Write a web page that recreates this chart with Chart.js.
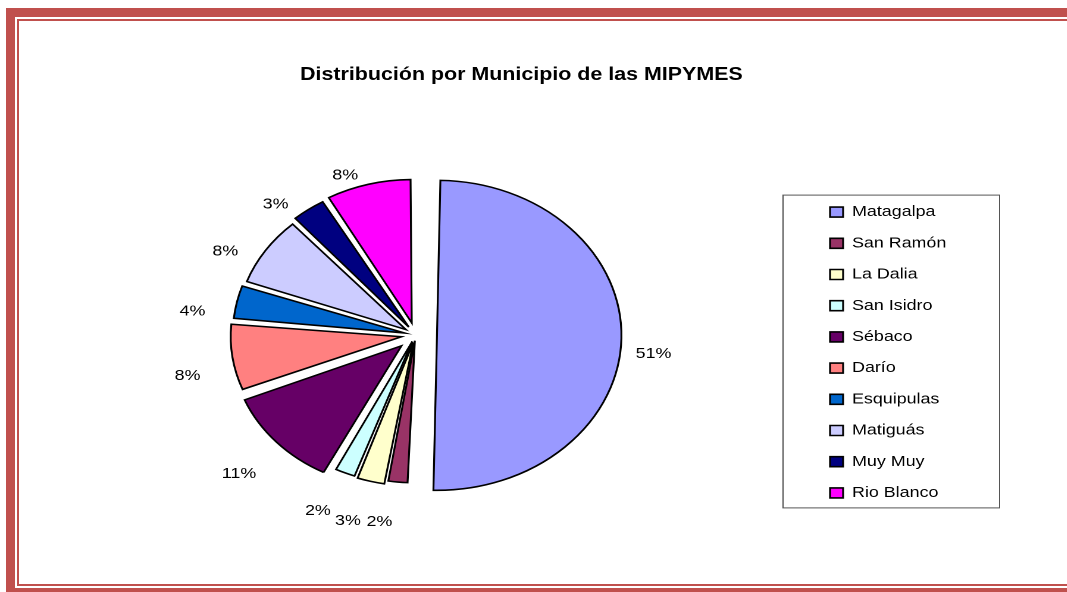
<!DOCTYPE html>
<html lang="es">
<head>
<meta charset="utf-8">
<title>Distribución por Municipio de las MIPYMES</title>
<script src="https://cdn.jsdelivr.net/npm/chart.js@4.4.1/dist/chart.umd.min.js"></script>
<style>
  body { margin: 0; width: 1067px; height: 592px; overflow: hidden; background: #fff; position: relative; }
  .marco1 { position: absolute; left: 6px; top: 8px; width: 1200px; height: 571px; border: 9px solid #c0504d; }
  .marco2 { position: absolute; left: 17px; top: 19px; width: 1200px; height: 563px; border: 2px solid #c0504d; }
  /* the original picture is stretched sideways, so the canvas is too */
  .lienzo { position: absolute; left: 0; top: 0; width: 897px; height: 592px; transform: scaleX(1.19); transform-origin: 0 0; }
</style>
</head>
<body>
<div class="marco1"></div>
<div class="marco2"></div>
<div class="lienzo"><canvas id="grafico" width="897" height="592"></canvas></div>
<script>
const municipios = ['Matagalpa', 'San Ramón', 'La Dalia', 'San Isidro', 'Sébaco', 'Darío', 'Esquipulas', 'Matiguás', 'Muy Muy', 'Rio Blanco'];
const porcentajes = [50.6, 2.0, 2.8, 2.1, 11.4, 7.6, 3.9, 8.0, 3.4, 8.2];

// estilo
const colores = ['#9999ff', '#993366', '#ffffcc', '#ccffff', '#660066', '#ff8080', '#0066cc', '#ccccff', '#000080', '#ff00ff'];
const separacion = [72, 23, 31, 28, 64, 48, 38, 39, 39, 50];
const radioPastel = 137;
const distanciaEtiqueta = 25;
const corrimientoEtiquetas = { x: -13, y: 15 };
const anchoLeyenda = 177.8;

Chart.defaults.font.family = "'Liberation Sans', Arial, sans-serif";
Chart.defaults.color = '#000';

// texto de porcentaje fuera de cada porción
const etiquetasPorcentaje = {
  id: 'etiquetasPorcentaje',
  afterDatasetsDraw(chart) {
    const ctx = chart.ctx;
    const meta = chart.getDatasetMeta(0);
    const total = porcentajes.reduce((a, b) => a + b, 0);
    ctx.save();
    ctx.font = "15px 'Liberation Sans', Arial, sans-serif";
    ctx.fillStyle = '#000';
    ctx.textBaseline = 'middle';
    meta.data.forEach((arc, i) => {
      const mid = (arc.startAngle + arc.endAngle) / 2;
      // chart.js mueve la porción offset/4 y la agranda un poco
      const t = separacion[i] / 4;
      const fix = 1 - Math.sin(Math.min(Math.PI, arc.circumference));
      const r = arc.outerRadius + t * (1 + fix) + distanciaEtiqueta;
      const texto = Math.round(porcentajes[i] / total * 100) + '%';
      const x = arc.x + corrimientoEtiquetas.x + Math.cos(mid) * r;
      const y = arc.y + corrimientoEtiquetas.y + Math.sin(mid) * r;
      // a la derecha el texto arranca en el punto, para no pisar la porción
      ctx.textAlign = Math.cos(mid) > 0.5 ? 'left' : 'center';
      ctx.fillText(texto, x, y);
    });
    ctx.restore();
  }
};

// leyenda mas ancha y con recuadro
const marcoLeyenda = {
  id: 'marcoLeyenda',
  beforeLayout(chart) {
    const lg = chart.legend;
    if (lg && !lg._ancho) {
      const fit = lg.fit;
      lg.fit = function () {
        fit.call(this);
        this.width = anchoLeyenda;
      };
      lg._ancho = true;
    }
  },
  afterDraw(chart) {
    const hb = chart.legend.legendHitBoxes;
    if (!hb || !hb.length) return;
    const ctx = chart.ctx;
    const x0 = hb[0].left - 39.5;
    const y0 = hb[0].top - 9.5;
    const y1 = hb[hb.length - 1].top + 22.5;
    ctx.save();
    ctx.strokeStyle = '#555';
    ctx.lineWidth = 1;
    ctx.strokeRect(x0, y0, 182, y1 - y0);
    ctx.restore();
  }
};

new Chart(document.getElementById('grafico'), {
  type: 'pie',
  data: {
    labels: municipios,
    datasets: [{
      data: porcentajes,
      backgroundColor: colores,
      borderColor: '#000',
      borderWidth: 1.6,
      borderJoinStyle: 'miter',
      offset: separacion
    }]
  },
  options: {
    responsive: false,
    animation: false,
    devicePixelRatio: 2,
    radius: radioPastel,
    layout: { padding: { left: 17.1, right: 37.9, top: 0, bottom: 7.8 } },
    plugins: {
      title: {
        display: true,
        text: 'Distribución por Municipio de las MIPYMES',
        font: { size: 18, weight: 'bold' },
        padding: { top: 64.2, bottom: 0 }
      },
      legend: {
        position: 'right',
        title: { display: true, text: '', font: { size: 15 }, padding: { top: 102.8, bottom: 0 } },
        labels: { boxWidth: 11, boxHeight: 10, padding: 16.2, font: { size: 15 }, color: '#000' }
      },
      tooltip: { enabled: false }
    }
  },
  plugins: [etiquetasPorcentaje, marcoLeyenda]
});
</script>
</body>
</html>
